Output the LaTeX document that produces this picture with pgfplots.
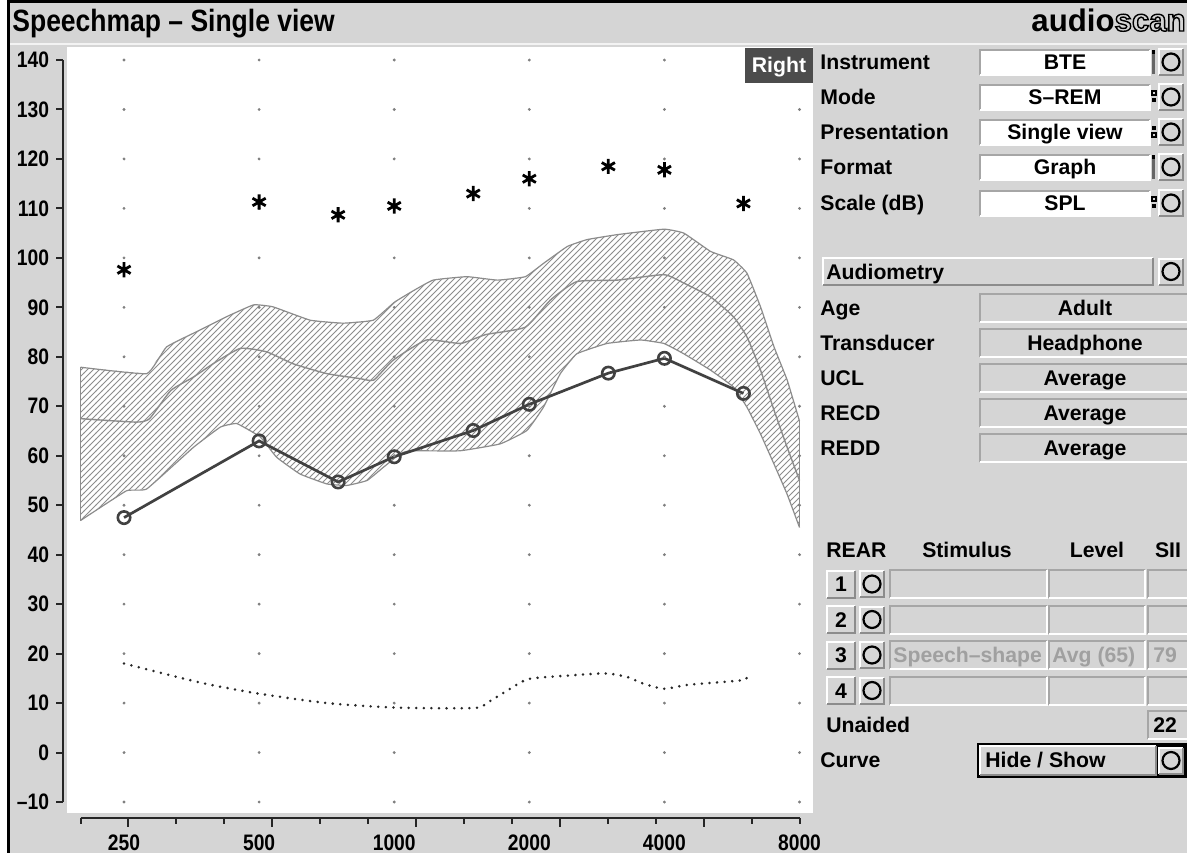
\documentclass[border=0pt]{standalone}
\usepackage{pgfplots}
\pgfplotsset{compat=1.18}
\usetikzlibrary{patterns}
\usepackage{fontspec}
\setmainfont{Liberation Sans}
\newfontfamily\narrowfont{Liberation Sans}[FakeStretch=0.86]

\definecolor{panel}{RGB}{213,213,213}
\definecolor{band}{RGB}{140,140,140}
\definecolor{aided}{RGB}{65,65,65}
\definecolor{dim}{RGB}{160,160,160}

\newcommand\lab{\fontsize{10.6}{12}\selectfont\bfseries}

% raised button: x1, ytop, x2, ybottom (screen pixels, y downwards)
\newcommand\raised[4]{%
  \fill[panel] ({#1},{-(#2)}) rectangle ({#3},{-(#4)});
  \draw[white, line width=1pt] ({#1},{-(#4)}) -- ({#1},{-(#2)}) -- ({#3},{-(#2)});
  \draw[black!45, line width=1pt] ({#1},{-(#4)}) -- ({#3},{-(#4)}) -- ({#3},{-(#2)});}
% sunken field: x1, ytop, x2, ybottom, fill
\newcommand\sunken[5]{%
  \fill[#5] ({#1},{-(#2)}) rectangle ({#3},{-(#4)});
  \draw[black!35, line width=1pt] ({#1},{-(#4)}) -- ({#1},{-(#2)}) -- ({#3},{-(#2)});
  \draw[white, line width=1pt] ({#1},{-(#4)}) -- ({#3},{-(#4)}) -- ({#3},{-(#2)});}
% round-symbol button centred at x, y
\newcommand\cbtn[2]{%
  \raised{#1-12}{#2-13}{#1+12}{#2+13}
  \draw[black, line width=1.1pt] ({#1},{-(#2)}) circle (8.5);}

\begin{document}
\begin{tikzpicture}[x=0.5pt,y=0.5pt]
% window background and frame
\fill[panel] (0,0) rectangle (1187,-853);
\fill[white] (0,0) rectangle (7,-853);
\fill[black] (7,0) rectangle (9.5,-853);
\fill[black] (7,0) rectangle (1187,-3);
\fill[white!70!panel] (9.5,-42.5) rectangle (1187,-45);
% title and logo
\node[anchor=base west, inner sep=0] at (12,-31)
  {\fontsize{15.4}{16}\selectfont\narrowfont\bfseries Speechmap \textendash{} Single view};
\node[anchor=base west, inner sep=0] at (1031,-31)
  {\fontsize{15.6}{16}\selectfont\bfseries audio\special{pdf:literal direct 1 Tr 0.7 w}scan\special{pdf:literal direct 0 Tr}};
% graph area
\fill[white] (67,-47) rectangle (813,-813);

\begin{axis}[
  at={(40.25pt,-401pt)}, anchor=south west,
  scale only axis, width=359.5pt, height=371pt,
  xmode=log, xmin=200, xmax=8000, ymin=-10, ymax=140,
  axis line style={draw=none}, tick style={draw=none},
  xtick={250,500,1000,2000,4000,8000},
  xticklabels={250,500,1000,2000,4000,8000},
  ytick={-10,0,10,20,30,40,50,60,70,80,90,100,110,120,130,140},
  yticklabels={\textendash10,0,10,20,30,40,50,60,70,80,90,100,110,120,130,140},
  xticklabel shift=12.8pt, yticklabel shift=12.2pt,
  /pgf/number format/assume math mode=true,
  ticklabel style={font=\fontsize{11.2}{12}\selectfont\narrowfont\bfseries},
  clip=false,
]
% dot grid
\addplot[only marks, mark=*, mark size=0.5pt, color=black!50] coordinates {
 (250,-10)(250,0)(250,10)(250,20)(250,30)(250,40)(250,50)(250,60)(250,70)(250,80)(250,90)(250,100)(250,110)(250,120)(250,130)(250,140)
 (500,-10)(500,0)(500,10)(500,20)(500,30)(500,40)(500,50)(500,60)(500,70)(500,80)(500,90)(500,100)(500,110)(500,120)(500,130)(500,140)
 (1000,-10)(1000,0)(1000,10)(1000,20)(1000,30)(1000,40)(1000,50)(1000,60)(1000,70)(1000,80)(1000,90)(1000,100)(1000,110)(1000,120)(1000,130)(1000,140)
 (2000,-10)(2000,0)(2000,10)(2000,20)(2000,30)(2000,40)(2000,50)(2000,60)(2000,70)(2000,80)(2000,90)(2000,100)(2000,110)(2000,120)(2000,130)(2000,140)
 (4000,-10)(4000,0)(4000,10)(4000,20)(4000,30)(4000,40)(4000,50)(4000,60)(4000,70)(4000,80)(4000,90)(4000,100)(4000,110)(4000,120)(4000,130)(4000,140)
 (8000,-10)(8000,0)(8000,10)(8000,20)(8000,30)(8000,40)(8000,50)(8000,60)(8000,70)(8000,80)(8000,90)(8000,100)(8000,110)(8000,120)(8000,130)(8000,140)
};
% speech region, hatched: upper limit left to right, lower limit right to left
\addplot[draw=none, pattern=north east lines, pattern color=band] coordinates {
 (200,77.9)(281,76.6)(311,82)(369,85.4)(423,88.1)(486,90.5)(537,90.1)(650,87.4)
 (769,86.8)(898,87.4)(1000,91)(1086,93)(1220,95.5)(1452,96.2)(1700,95.5)(1960,96.2)
 (2152,98.9)(2430,102.3)(2690,103.7)(3140,104.7)(3990,105.8)(4420,105)(5070,101.3)
 (5700,99.6)(6110,96.9)(6550,90.1)(7020,82)(7510,75.3)(8000,67)
 (8000,45.5)(7510,52.2)(7020,58.3)(6550,64.4)(6110,69.8)(5700,73.9)(5070,77.3)
 (4420,80.6)(3990,82.7)(3540,83.4)(2980,82.7)(2550,80.6)(2345,76.6)(2150,69.8)
 (1975,65.1)(1723,62.4)(1400,61)(1085,61)(1031,60.4)(947,57.7)(870,55)(785,54)
 (708,54.3)(617,56.3)(547,59.7)(503,63.8)(446,66.5)(410,65.8)(357,61.7)(281,53.3)
 (253,52.9)(200,46.9)} -- cycle;
% outline of the speech region
\addplot[color=band, line width=0.6pt, smooth, tension=0.2] coordinates {
 (200,77.9)(281,76.6)(311,82)(369,85.4)(423,88.1)(486,90.5)(537,90.1)(650,87.4)
 (769,86.8)(898,87.4)(1000,91)(1086,93)(1220,95.5)(1452,96.2)(1700,95.5)(1960,96.2)
 (2152,98.9)(2430,102.3)(2690,103.7)(3140,104.7)(3990,105.8)(4420,105)(5070,101.3)
 (5700,99.6)(6110,96.9)(6550,90.1)(7020,82)(7510,75.3)(8000,67)};
\addplot[color=band, line width=0.6pt, smooth, tension=0.2] coordinates {
 (200,46.9)(253,52.9)(281,53.3)(357,61.7)(410,65.8)(446,66.5)(503,63.8)(547,59.7)
 (617,56.3)(708,54.3)(785,54)(870,55)(947,57.7)(1031,60.4)(1085,61)(1400,61)
 (1723,62.4)(1975,65.1)(2150,69.8)(2345,76.6)(2550,80.6)(2980,82.7)(3540,83.4)
 (3990,82.7)(4420,80.6)(5070,77.3)(5700,73.9)(6110,69.8)(6550,64.4)(7020,58.3)
 (7510,52.2)(8000,45.5)};
\addplot[color=band, line width=0.6pt] coordinates {(200,46.9)(200,77.9)};
\addplot[color=band, line width=0.6pt] coordinates {(8000,45.5)(8000,67)};
% long-term average speech spectrum
\addplot[color=band, line width=0.7pt, smooth, tension=0.3] coordinates {
 (200,67.5)(266,66.8)(285,67.5)(318,73.2)(357,75.9)(395,78.6)(454,81.7)(520,81)
 (595,78.6)(708,76.6)(838,75.6)(900,75.3)(994,79.3)(1180,83.4)(1405,82.7)(1600,84.5)
 (1960,86)(2230,91.5)(2550,95.2)(3140,95.5)(3990,96.6)(4420,94.9)(5070,92.1)
 (5700,88.1)(6110,84)(6550,77.3)(7020,69.2)(7510,61.7)(8000,55)};
% threshold
\addplot[black!85, line width=1.4pt, line cap=round, dash pattern=on 0pt off 3.8pt, smooth, tension=0.4] coordinates {
 (250,18)(296,16.3)(380,13.9)(500,11.9)(709,10)(1000,9.1)(1505,9)(1620,10.2)
 (1837,13.2)(2000,14.9)(2480,15.6)(2950,16)(3300,15.3)(3600,13.9)(4000,12.9)
 (4530,13.7)(5940,14.6)(6100,15.1)};
% aided response
\addplot[aided, line width=1.35pt, mark=o, mark size=3.1pt,
  mark options={line width=1.3pt}] coordinates {
 (250,47.5)(500,63)(750,54.7)(1000,59.8)(1500,65.1)(2000,70.4)(3000,76.7)(4000,79.7)(6000,72.6)};
% uncomfortable loudness levels
\addplot[only marks, mark=asterisk, mark size=3.8pt, mark options={line width=1.4pt}, black]
 coordinates {(250,97.6)(500,111.3)(750,108.7)(1000,110.5)(1500,113)(2000,116)(3000,118.5)(4000,117.8)(6000,111)};
\end{axis}

% axis lines and ticks
\draw[black!85, line width=1pt] (63,-60) -- (63,-802);
\foreach \k in {0,...,15} \draw[black!85, line width=1pt] (56,{-802+49.467*\k}) -- (63,{-802+49.467*\k});
\draw[black!85, line width=1pt] (80.5,-818) -- (799.5,-818);
\foreach \k in {0,...,15} \draw[black!85, line width=1pt] ({80.5+47.933*\k},-818) -- ({80.5+47.933*\k},-824);
\foreach \k in {1,4,7,10,13} \draw[black!85, line width=1pt] ({80.5+47.933*\k},-818) -- ({80.5+47.933*\k},-827);

% channel tag
\fill[black!70] (745,-48) rectangle (813,-83);
\node[white, anchor=base] at (779,-72) {\lab Right};

% settings
\foreach \y/\n/\v in {62/Instrument/BTE, 97/Mode/S--REM, 132/Presentation/Single view, 167/Format/Graph, 203/Scale (dB)/SPL}{
  \node[anchor=base west, inner sep=0] at (820,{-\y-7.5}) {\lab \n};
  \sunken{980}{\y-12.5}{1150}{\y+12.5}{white}
  \node[anchor=base, inner sep=0] at (1065,{-\y-7.5}) {\lab \v};
  \cbtn{1171}{\y}
}
% mode indicators
\fill[black!60] (1152,-50) rectangle (1155,-74);\fill[black] (1152,-50) rectangle (1155,-54);
\fill[black!60] (1152,-155) rectangle (1155,-179);\fill[black] (1152,-155) rectangle (1155,-159);
\foreach \y in {97,203}{
  \draw[black, line width=0.6pt] (1152,{-\y+6}) rectangle (1156,{-\y+2});
  \fill[black] (1152,{-\y-1}) rectangle (1156,{-\y-5});
}
\fill[black] (1152,-126) rectangle (1156,-130);
\draw[black, line width=0.6pt] (1152,-133) rectangle (1156,-137);

% audiometry
\raised{823}{258}{1153}{285}
\node[anchor=base west, inner sep=0] at (826,-279) {\lab Audiometry};
\cbtn{1171}{271.5}
\foreach \y/\n/\v in {307.5/Age/Adult, 342.5/Transducer/Headphone, 378/UCL/Average, 413/RECD/Average, 448/REDD/Average}{
  \node[anchor=base west, inner sep=0] at (820,{-\y-7.5}) {\lab \n};
  \sunken{980}{\y-14}{1190}{\y+14}{panel}
  \node[anchor=base, inner sep=0] at (1085,{-\y-7.5}) {\lab \v};
}

% REAR table
\node[anchor=base west, inner sep=0] at (826,-557.5) {\lab REAR};
\node[anchor=base, inner sep=0] at (967,-557.5) {\lab Stimulus};
\node[anchor=base, inner sep=0] at (1097,-557.5) {\lab Level};
\node[anchor=base, inner sep=0] at (1168,-557.5) {\lab SII};
\foreach \y/\n in {584/1, 619.5/2, 655/3, 690.5/4}{
  \raised{827}{\y-13.5}{855}{\y+13.5}
  \node[anchor=base, inner sep=0] at (841,{-\y-7.5}) {\lab \n};
  \cbtn{872}{\y}
  \sunken{890}{\y-14}{1047}{\y+14}{panel}
  \sunken{1049}{\y-14}{1145}{\y+14}{panel}
  \sunken{1148}{\y-14}{1190}{\y+14}{panel}
}
\node[anchor=base west, inner sep=0, text=dim] at (893,-662.5) {\lab Speech\textendash shape};
\node[anchor=base west, inner sep=0, text=dim] at (1052,-662.5) {\lab Avg (65)};
\node[anchor=base west, inner sep=0, text=dim] at (1153,-662.5) {\lab 79};
\node[anchor=base west, inner sep=0] at (826,-732.5) {\lab Unaided};
\sunken{1148}{711}{1190}{739}{panel}
\node[anchor=base west, inner sep=0] at (1153,-732.5) {\lab 22};

% curve selector
\node[anchor=base west, inner sep=0] at (820,-767.5) {\lab Curve};
\fill[black] (977,-743) rectangle (1190,-778);
\raised{980}{746}{1156}{775}
\node[anchor=base west, inner sep=0] at (985,-767.5) {\lab Hide / Show};
\cbtn{1171}{760.5}

% picture extent: the window rectangle
\pgfresetboundingbox
\path[use as bounding box] (0,0) rectangle (1187,-853);
\end{tikzpicture}
\end{document}
